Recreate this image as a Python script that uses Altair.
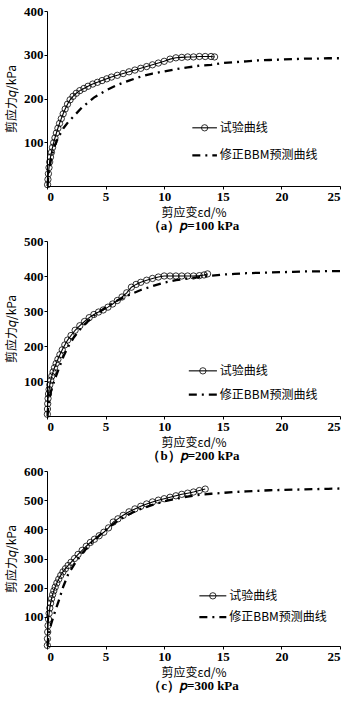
import altair as alt
import pandas as pd

# ---------------- data ----------------
SERIES_EXP = "试验曲线"
SERIES_MOD = "修正BBM预测曲线"

# (a) p = 100 kPa
a_exp_x = [0.05, 0.08, 0.12, 0.17, 0.23, 0.3, 0.38, 0.47, 0.57, 0.68, 0.8, 0.93, 1.07, 1.22, 1.38,
           1.55, 1.75, 1.97, 2.22, 2.5, 2.8, 3.15, 3.5, 3.9, 4.3, 4.7, 5.1, 5.5, 6.0, 6.5, 7.0, 7.5,
           8.0, 8.5, 9.0, 9.5, 10.0, 10.5, 11.0, 11.5, 12.0, 12.5, 13.0, 13.5, 14.0, 14.3]
a_exp_q = [3, 15, 28, 42, 55, 66, 77, 88, 99, 110, 121, 132, 143, 154, 165,
           176, 187, 197, 205, 212, 218, 223, 228, 233, 237, 241, 245, 249, 253, 257, 261, 265,
           269, 273, 277, 281, 285, 290, 293, 294, 295, 295, 296, 296, 296, 295]
a_mod_x = [0.05, 0.1, 0.2, 0.35, 0.5, 0.7, 1.0, 1.4, 1.8, 2.3, 3.0, 4.0, 5.0, 6.0, 7.0, 8.0, 9.0,
           10.0, 11.0, 12.0, 13.0, 14.0, 15.0, 16.0, 17.0, 18.0, 19.0, 20.0, 21.0, 22.0, 23.0, 24.0, 25.0]
a_mod_q = [0, 20, 40, 62, 78, 95, 113, 132, 146, 160, 180, 202, 218, 231, 241, 250, 257,
           262, 267, 271, 275, 277, 281, 283, 285, 287, 288, 289, 290, 291, 291, 292, 292]

# (b) p = 200 kPa
b_exp_x = [0.03, 0.04, 0.06, 0.09, 0.13, 0.18, 0.24, 0.32, 0.41, 0.52, 0.64, 0.78, 0.93, 1.1, 1.3,
           1.52, 1.76, 2.05, 2.4, 2.8, 3.2, 3.6, 4.0, 4.4, 4.8, 5.2, 5.6, 6.0, 6.4, 6.8, 7.2, 7.6,
           8.0, 8.5, 9.0, 9.5, 10.0, 10.5, 11.0, 11.5, 12.0, 12.5, 13.0, 13.4, 13.7]
b_exp_q = [5, 20, 35, 50, 63, 76, 89, 102, 114, 126, 138, 150, 162, 175, 189,
           203, 217, 230, 245, 258, 270, 281, 290, 297, 303, 311, 320, 330, 340, 352, 368, 376,
           382, 388, 393, 397, 400, 400, 400, 400, 400, 400, 401, 403, 406]
b_mod_x = [0.05, 0.1, 0.2, 0.35, 0.5, 0.7, 1.0, 1.4, 1.8, 2.3, 3.0, 4.0, 5.0, 6.0, 7.0, 8.0, 9.0,
           10.0, 11.0, 12.0, 13.0, 14.0, 15.0, 16.0, 17.0, 18.0, 19.0, 20.0, 21.0, 22.0, 23.0, 24.0, 25.0]
b_mod_q = [0, 25, 50, 72, 88, 108, 135, 170, 198, 225, 255, 286, 310, 330, 346, 360, 371,
           381, 388, 393, 397, 401, 404, 406, 408, 409, 410, 411, 412, 413, 413, 414, 414]

# (c) p = 300 kPa
c_exp_x = [0.03, 0.04, 0.06, 0.09, 0.13, 0.18, 0.24, 0.31, 0.39, 0.48, 0.58, 0.7, 0.84, 1.0, 1.17,
           1.36, 1.57, 1.8, 2.05, 2.35, 2.65, 3.0, 3.35, 3.7, 4.05, 4.45, 4.85, 5.25, 5.65, 6.05,
           6.5, 7.0, 7.5, 8.0, 8.5, 9.0, 9.5, 10.0, 10.5, 11.0, 11.5, 12.0, 12.5, 13.0, 13.5]
c_exp_q = [2, 25, 48, 70, 92, 112, 130, 147, 162, 176, 189, 202, 216, 229, 242,
           254, 265, 276, 287, 300, 314, 328, 342, 355, 366, 378, 390, 405, 425, 436,
           448, 460, 470, 479, 487, 494, 500, 505, 510, 515, 520, 524, 528, 533, 538]
c_mod_x = [0.05, 0.1, 0.2, 0.35, 0.5, 0.7, 1.0, 1.4, 1.8, 2.3, 3.0, 4.0, 5.0, 6.0, 7.0, 8.0, 9.0,
           10.0, 11.0, 12.0, 13.0, 14.0, 15.0, 16.0, 17.0, 18.0, 19.0, 20.0, 21.0, 22.0, 23.0, 24.0, 25.0]
c_mod_q = [0, 25, 50, 75, 95, 120, 155, 205, 245, 278, 318, 362, 398, 428, 452, 470, 484,
           496, 505, 512, 518, 522, 525, 528, 530, 532, 534, 535, 536, 537, 538, 539, 540]

x_ticks = [0, 5, 10, 15, 20, 25]
captions = ["（a）𝑝=100 kPa", "（b）𝑝=200 kPa", "（c）𝑝=300 kPa"]
y_max = [400, 500, 600]
y_ticks = [[100, 200, 300, 400], [100, 200, 300, 400, 500], [100, 200, 300, 400, 500, 600]]

# ---------------- layout / style ----------------
W, H = 293, 175
# legend placement per panel in data units: (x_start, x_end, x_text, q_row1, q_row2)
legend_pos = [
    (12.4, 14.5, 14.75, 133, 70),
    (12.1, 14.5, 14.75, 129, 61),
    (13.0, 15.3, 15.55, 172, 99),
]
SERIF = "Liberation Serif"
CJK = "Noto Sans CJK SC"


def panel(i, ex, eq, mx, mq):
    exp = pd.DataFrame({"x": ex, "q": eq, "s": SERIES_EXP})
    mod = pd.DataFrame({"x": mx, "q": mq, "s": SERIES_MOD})
    xs = alt.Scale(domain=[0, 25], nice=False, zero=True)
    ys = alt.Scale(domain=[0, y_max[i]], nice=False)
    xax = alt.Axis(values=x_ticks, title="剪应变εd/%", format="d", labelFont=SERIF,
                   labelFontWeight="bold", labelFontSize=13, labelColor="black",
                   labelOverlap=False, titleFontSize=12, titlePadding=4)
    yax = alt.Axis(values=y_ticks[i], title="剪应力𝑞/kPa", format="d", labelFont=SERIF,
                   labelFontWeight="bold", labelFontSize=13, labelColor="black",
                   labelOverlap=False, titleFontSize=12, titlePadding=5)

    def X(f):
        return alt.X(f, scale=xs, axis=xax)

    def Y(f):
        return alt.Y(f, scale=ys, axis=yax)

    exp_line = alt.Chart(exp).mark_line(color="black", strokeWidth=1.1).encode(
        x=X("x:Q"), y=Y("q:Q"))
    exp_pts = alt.Chart(exp).mark_point(
        shape="circle", filled=False, color="black", size=40, strokeWidth=0.8, opacity=1
    ).encode(x=X("x:Q"), y=Y("q:Q"))
    mod_line = alt.Chart(mod).mark_line(
        color="black", strokeWidth=2.3, strokeDash=[8, 5, 2, 5]
    ).encode(x=X("x:Q"), y=Y("q:Q"))

    x0, x1, xt, r1, r2 = legend_pos[i]
    leg = pd.DataFrame({
        "s": [SERIES_EXP, SERIES_MOD],
        "x0": [x0, x0], "x1": [x1, x1], "xt": [xt, xt],
        "xm": [(x0 + x1) / 2, (x0 + x1) / 2], "q": [r1, r2],
    })
    leg_exp = alt.Chart(leg).transform_filter(alt.datum.s == SERIES_EXP)
    leg_mod = alt.Chart(leg).transform_filter(alt.datum.s == SERIES_MOD)
    l1 = leg_exp.mark_rule(color="black", strokeWidth=1.1).encode(
        x=X("x0:Q"), x2="x1:Q", y=Y("q:Q"))
    l1p = leg_exp.mark_point(shape="circle", filled=False, color="black", size=40,
                             strokeWidth=0.8, opacity=1).encode(x=X("xm:Q"), y=Y("q:Q"))
    l2 = leg_mod.mark_rule(color="black", strokeWidth=2.3, strokeDash=[8, 5, 2, 5]).encode(
        x=X("x0:Q"), x2="x1:Q", y=Y("q:Q"))
    lt = alt.Chart(leg).mark_text(align="left", baseline="middle", font=CJK, fontSize=12,
                                  color="black").encode(x=X("xt:Q"), y=Y("q:Q"), text="s:N")

    return alt.layer(exp_line, mod_line, exp_pts, l1, l1p, l2, lt).properties(
        width=W, height=H,
        title=alt.TitleParams(captions[i], orient="bottom", anchor="middle", font=SERIF,
                              fontSize=13, fontWeight="bold", color="black", offset=2),
    )


chart = alt.vconcat(
    panel(0, a_exp_x, a_exp_q, a_mod_x, a_mod_q),
    panel(1, b_exp_x, b_exp_q, b_mod_x, b_mod_q),
    panel(2, c_exp_x, c_exp_q, c_mod_x, c_mod_q),
    spacing=2,
).properties(
    padding={"left": 5, "top": 5, "right": 5, "bottom": 5},
).configure_view(stroke=None).configure_axis(
    domainColor="black", tickColor="black", tickSize=3, grid=False,
    labelPadding=1, titleFont=CJK, titleFontWeight="normal",
    titleColor="black", domainWidth=1,
)

chart.save("out.html", embed_options={"renderer": "svg", "actions": False})
